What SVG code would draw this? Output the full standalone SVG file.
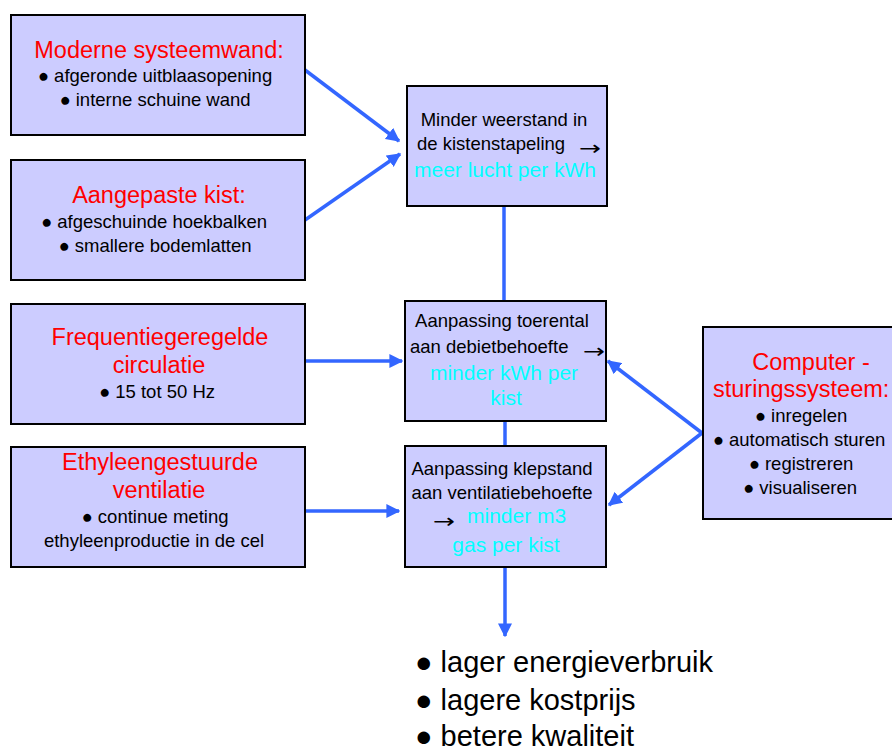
<svg xmlns="http://www.w3.org/2000/svg" width="892" height="751" viewBox="0 0 892 751">
<style>
.box{fill:#CCCCFF;stroke:#000;stroke-width:2}
text{font-family:"Liberation Sans",Arial,sans-serif}
.t{fill:#FF0000;font-size:23.5px;text-anchor:middle}
.tl{fill:#FF0000;font-size:23.5px}
.b{fill:#000;font-size:18.5px;text-anchor:middle}
.bl{fill:#000;font-size:18.5px}
.ar{fill:#000;font-size:20px;font-family:"DejaVu Sans",sans-serif}
.c{fill:#00FFFF;font-size:21px;text-anchor:middle}
.cl{fill:#00FFFF;font-size:21px}
.big{fill:#000;font-size:29px}
.con{stroke:#3366FF;stroke-width:3.5;fill:none}
</style>
<defs>
<marker id="ah" viewBox="0 0 10 10" refX="9" refY="5" markerWidth="4" markerHeight="4" orient="auto" markerUnits="strokeWidth">
<path d="M0,0 L10,5 L0,10 z" fill="#3366FF"/>
</marker>
</defs>
<g id="connectors">
<line class="con" x1="305" y1="70" x2="399" y2="141" marker-end="url(#ah)"/>
<line class="con" x1="305" y1="220" x2="400" y2="154" marker-end="url(#ah)"/>
<line class="con" x1="504" y1="206" x2="504" y2="301"/>
<line class="con" x1="505" y1="421" x2="505" y2="446"/>
<line class="con" x1="305" y1="361" x2="402" y2="361" marker-end="url(#ah)"/>
<line class="con" x1="305" y1="511" x2="399" y2="511" marker-end="url(#ah)"/>
<line class="con" x1="702" y1="433" x2="608" y2="361" marker-end="url(#ah)"/>
<line class="con" x1="702" y1="433" x2="609" y2="505" marker-end="url(#ah)"/>
<line class="con" x1="505" y1="567" x2="505" y2="636" marker-end="url(#ah)"/>
</g>
<g id="moderne">
<rect class="box" x="11" y="15" width="294" height="120"/>
<text class="t" x="159" y="58">Moderne systeemwand:</text>
<text class="b" x="155" y="82">● afgeronde uitblaasopening</text>
<text class="b" x="155" y="106">● interne schuine wand</text>
</g>
<g id="kist">
<rect class="box" x="11" y="160" width="294" height="120"/>
<text class="t" x="159" y="203">Aangepaste kist:</text>
<text class="b" x="154" y="228">● afgeschuinde hoekbalken</text>
<text class="b" x="155" y="252">● smallere bodemlatten</text>
</g>
<g id="frequentie">
<rect class="box" x="11" y="304" width="294" height="120"/>
<text class="t" x="160" y="345">Frequentiegeregelde</text>
<text class="t" x="159" y="373">circulatie</text>
<text class="b" x="157" y="398">● 15 tot 50 Hz</text>
</g>
<g id="ethyleen">
<rect class="box" x="11" y="447" width="294" height="120"/>
<text class="t" x="160" y="470">Ethyleengestuurde</text>
<text class="t" x="159" y="498">ventilatie</text>
<text class="b" x="155" y="523">● continue meting</text>
<text class="b" x="154" y="547">ethyleenproductie in de cel</text>
</g>
<g id="weerstand">
<rect class="box" x="407" y="86" width="200" height="120"/>
<text class="b" x="504" y="126">Minder weerstand in</text>
<text class="bl" x="417" y="150">de kistenstapeling</text>
<text class="ar" x="579" y="155" textLength="22" lengthAdjust="spacingAndGlyphs">→</text>
<text class="c" x="505" y="177">meer lucht per kWh</text>
</g>
<g id="toerental">
<rect class="box" x="405" y="301" width="201" height="120"/>
<text class="b" x="502" y="327">Aanpassing toerental</text>
<text class="bl" x="410" y="353">aan debietbehoefte</text>
<text class="ar" x="583" y="358" textLength="22" lengthAdjust="spacingAndGlyphs">→</text>
<text class="c" x="504" y="380">minder kWh per</text>
<text class="c" x="506" y="405">kist</text>
</g>
<g id="klepstand">
<rect class="box" x="405" y="446" width="201" height="121"/>
<text class="b" x="502" y="475">Aanpassing klepstand</text>
<text class="b" x="502" y="499">aan ventilatiebehoefte</text>
<text class="ar" x="433" y="528" textLength="22" lengthAdjust="spacingAndGlyphs">→</text>
<text class="cl" x="467" y="523">minder m3</text>
<text class="c" x="506" y="552">gas per kist</text>
</g>
<g id="computer">
<rect class="box" x="703" y="327" width="214" height="192"/>
<text class="t" x="811" y="370">Computer -</text>
<text class="tl" x="713" y="397">sturingssysteem:</text>
<text class="b" x="801" y="422">● inregelen</text>
<text class="b" x="799" y="446">● automatisch sturen</text>
<text class="b" x="801" y="470">● registreren</text>
<text class="b" x="800" y="494">● visualiseren</text>
</g>
<g id="resultaat">
<text class="big" x="415" y="672">● lager energieverbruik</text>
<text class="big" x="415" y="710">● lagere kostprijs</text>
<text class="big" x="415" y="746">● betere kwaliteit</text>
</g>
</svg>
